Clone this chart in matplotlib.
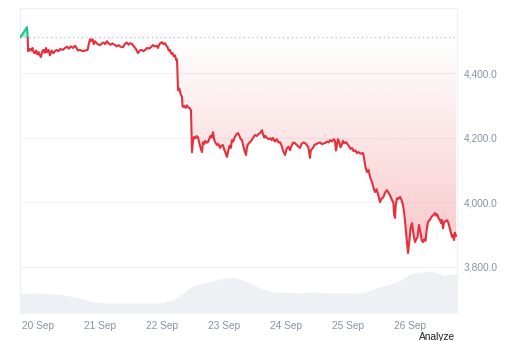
import matplotlib
matplotlib.use("Agg")
import matplotlib.pyplot as plt
import numpy as np
from matplotlib.patches import Polygon, Rectangle
from matplotlib.ticker import FuncFormatter

# time axis: days since 20 Sep 00:00
price_days = [
    -0.29, -0.25, -0.22, -0.19, -0.177, -0.165, -0.16, -0.13, -0.11, -0.09, -0.07, -0.05, -0.03, -0.01,
    0.01, 0.03, 0.048, 0.07, 0.09, 0.11, 0.13, 0.145, 0.17, 0.194, 0.22, 0.25, 0.274, 0.30, 0.33, 0.36,
    0.40, 0.435, 0.47, 0.50, 0.53, 0.565, 0.60, 0.645, 0.68, 0.72, 0.758, 0.80, 0.82, 0.839, 0.86, 0.88,
    0.90, 0.919, 0.95, 0.98, 1.0, 1.03, 1.06, 1.08, 1.113, 1.14, 1.17, 1.2, 1.242, 1.27, 1.3, 1.33,
    1.371, 1.40, 1.43, 1.46, 1.484, 1.52, 1.55, 1.58, 1.613, 1.64, 1.67, 1.70, 1.73, 1.758, 1.79, 1.82,
    1.855, 1.88, 1.91, 1.935, 1.96, 1.98, 2.0, 2.02, 2.048, 2.07, 2.09, 2.11, 2.129, 2.15, 2.17, 2.19,
    2.21, 2.23, 2.242, 2.25, 2.258, 2.28, 2.30, 2.323, 2.33, 2.339, 2.36, 2.38, 2.40, 2.419, 2.44, 2.468,
    2.475, 2.484, 2.50, 2.516, 2.54, 2.56, 2.581, 2.60, 2.62, 2.645, 2.661, 2.68, 2.70, 2.72, 2.742, 2.76,
    2.78, 2.80, 2.823, 2.84, 2.86, 2.887, 2.91, 2.935, 2.96, 2.984, 3.0, 3.02, 3.048, 3.07, 3.09, 3.11,
    3.129, 3.15, 3.17, 3.2, 3.226, 3.25, 3.27, 3.29, 3.31, 3.33, 3.355, 3.37, 3.39, 3.419, 3.44, 3.47,
    3.5, 3.53, 3.56, 3.59, 3.613, 3.63, 3.65, 3.67, 3.694, 3.72, 3.75, 3.77, 3.79, 3.82, 3.85, 3.88,
    3.903, 3.93, 3.95, 3.984, 4.01, 4.04, 4.065, 4.09, 4.12, 4.145, 4.17, 4.2, 4.226, 4.25, 4.28, 4.306,
    4.33, 4.36, 4.387, 4.40, 4.435, 4.46, 4.49, 4.516, 4.55, 4.58, 4.629, 4.66, 4.69, 4.71, 4.74, 4.77,
    4.79, 4.806, 4.82, 4.839, 4.86, 4.88, 4.90, 4.919, 4.94, 4.968, 4.99, 5.02, 5.04, 5.065, 5.09, 5.12,
    5.145, 5.17, 5.2, 5.242, 5.26, 5.28, 5.306, 5.33, 5.36, 5.387, 5.41, 5.435, 5.46, 5.49, 5.516, 5.54,
    5.57, 5.6, 5.629, 5.65, 5.68, 5.71, 5.73, 5.745, 5.758, 5.77, 5.79, 5.815, 5.839, 5.86, 5.887, 5.91,
    5.94, 5.968, 5.99, 6.01, 6.032, 6.05, 6.065, 6.081, 6.10, 6.12, 6.145, 6.17, 6.19, 6.21, 6.23, 6.25,
    6.27, 6.29, 6.32, 6.35, 6.38, 6.403, 6.42, 6.44, 6.46, 6.484, 6.50, 6.515, 6.532, 6.55, 6.57, 6.597,
    6.62, 6.64, 6.66, 6.677, 6.69, 6.71, 6.725, 6.742,
]
price = [
    4512, 4520, 4530, 4538, 4543, 4510, 4468, 4475, 4470, 4478, 4465, 4462, 4470, 4458,
    4465, 4455, 4450, 4468, 4472, 4463, 4478, 4465, 4472, 4455, 4470, 4462, 4468, 4472, 4468, 4475,
    4472, 4478, 4482, 4476, 4483, 4478, 4485, 4470, 4472, 4468, 4470, 4472, 4490, 4505, 4500, 4505,
    4490, 4499, 4492, 4488, 4487, 4492, 4495, 4490, 4499, 4492, 4488, 4492, 4487, 4483, 4487, 4482,
    4480, 4490, 4495, 4488, 4493, 4490, 4482, 4475, 4462, 4470, 4472, 4468, 4472, 4478, 4476, 4480,
    4487, 4483, 4485, 4478, 4490, 4494, 4496, 4490, 4493, 4485, 4480, 4470, 4472, 4460, 4462, 4452,
    4455, 4440, 4442, 4400, 4347, 4352, 4335, 4326, 4300, 4295, 4298, 4292, 4300, 4295, 4292, 4285,
    4230, 4155, 4190, 4202, 4198, 4205, 4200, 4185, 4170, 4155, 4186, 4180, 4190, 4184, 4186, 4195,
    4205, 4200, 4217, 4195, 4185, 4177, 4180, 4168, 4175, 4177, 4165, 4155, 4140, 4160, 4175, 4168,
    4192, 4188, 4200, 4210, 4214, 4205, 4195, 4192, 4175, 4160, 4146, 4170, 4180, 4186, 4190, 4200,
    4208, 4205, 4212, 4215, 4223, 4210, 4200, 4205, 4199, 4195, 4198, 4192, 4199, 4188, 4195, 4185,
    4186, 4175, 4160, 4146, 4165, 4172, 4161, 4175, 4185, 4183, 4178, 4172, 4168, 4180, 4185, 4183,
    4178, 4170, 4137, 4160, 4168, 4178, 4180, 4183, 4185, 4180, 4183, 4188, 4185, 4192, 4188, 4195,
    4190, 4160, 4175, 4195, 4185, 4170, 4178, 4190, 4182, 4186, 4180, 4172, 4165, 4168, 4158, 4160,
    4152, 4155, 4150, 4152, 4135, 4110, 4093, 4100, 4075, 4062, 4045, 4031, 4040, 4020, 4000, 4010,
    4015, 4030, 4037, 4030, 4020, 4006, 4000, 3960, 3951, 3990, 4012, 4010, 4016, 4008, 3991, 3960,
    3900, 3842, 3880, 3920, 3935, 3910, 3890, 3876, 3885, 3890, 3929, 3905, 3880, 3876, 3885, 3880,
    3915, 3938, 3945, 3955, 3960, 3966, 3958, 3962, 3950, 3944, 3935, 3945, 3919, 3938, 3940, 3944,
    3935, 3920, 3905, 3892, 3898, 3882, 3905, 3895,
]
baseline = 4512

volume_days = [
    -0.29, -0.08, 0.306, 0.677, 0.887, 1.113, 1.532, 1.968, 2.177, 2.5, 2.726, 2.935, 3.145, 3.371,
    3.581, 3.79, 4.226, 4.435, 4.758, 5.242, 5.516, 5.79, 6.0, 6.161, 6.371, 6.532, 6.758,
]
volume = [
    1.9, 2.0, 1.9, 1.5, 1.1, 1.0, 1.0, 1.0, 1.3, 2.7, 3.1, 3.4, 3.6, 3.1,
    2.5, 2.1, 2.0, 2.1, 2.0, 2.0, 2.6, 3.1, 3.9, 4.1, 4.2, 3.8, 3.9,
]

tick_days = [0, 1, 2, 3, 4, 5, 6]
tick_labels = ["20 Sep", "21 Sep", "22 Sep", "23 Sep", "24 Sep", "25 Sep", "26 Sep"]
price_ticks = [3800, 4000, 4200, 4400]

RED = "#e5303e"
GREEN = "#16c784"
GRAY = "#8a91a0"
x_min, x_max = -0.29, 6.758
y_min, y_max = 3656, 4602

plt.rcParams["font.family"] = ["Liberation Sans", "DejaVu Sans"]

fig = plt.figure(figsize=(5.12, 3.41), dpi=100)
ax = fig.add_axes([20 / 512, 1 - 313 / 341, 437 / 512, 305 / 341])

# volume on a twin axis, drawn behind the price
vax = ax.twinx()
vax.fill_between(volume_days, volume, 0, color="#eef0f4", lw=0)
vax.set_ylim(0, 30.5)
vax.set_yticks([])
for s in vax.spines.values():
    s.set_visible(False)
ax.set_zorder(vax.get_zorder() + 1)
ax.patch.set_visible(False)

t = np.array(price_days)
p = np.array(price)

# gradient fill between baseline and the price where it is below
verts = [(t[0], baseline)] + list(zip(t, np.minimum(p, baseline))) + [(t[-1], baseline)]
clip = Polygon(verts, closed=True, facecolor="none", edgecolor="none", transform=ax.transData)
ax.add_patch(clip)
grad = np.zeros((256, 1, 4))
grad[..., 0], grad[..., 1], grad[..., 2] = 234 / 255, 57 / 255, 67 / 255
grad[:, 0, 3] = np.linspace(0.28, 0.0, 256)
img = ax.imshow(grad, extent=[x_min, x_max, p.min(), baseline], origin="lower",
                aspect="auto", zorder=1, interpolation="bilinear")
img.set_clip_path(clip)

# small green area where the price sits above the opening price
ax.fill_between(t, p, baseline, where=p >= baseline, interpolate=True,
                color=GREEN, alpha=0.35, lw=0, zorder=1)

# price line, red below the opening price and green above
red_line, = ax.plot(t, p, color=RED, lw=1.5, zorder=3, solid_joinstyle="round")
green_line, = ax.plot(t, p, color=GREEN, lw=1.5, zorder=3, solid_joinstyle="round")
below = Rectangle((x_min, y_min), x_max - x_min, baseline - y_min, transform=ax.transData)
above = Rectangle((x_min, baseline), x_max - x_min, y_max - baseline, transform=ax.transData)
red_line.set_clip_path(below)
green_line.set_clip_path(above)

ax.axhline(baseline, color="#b8bcc6", lw=0.9, ls=(0, (1, 2.5)), zorder=2)

ax.set_xlim(x_min, x_max)
ax.set_ylim(y_min, y_max)
ax.set_xticks(tick_days)
ax.set_xticklabels(tick_labels)
ax.set_yticks(price_ticks)
ax.yaxis.set_major_formatter(FuncFormatter(lambda v, _: f"{v:,.1f}"))
ax.yaxis.tick_right()
ax.tick_params(axis="both", length=0, labelsize=7.3, labelcolor=GRAY)
ax.tick_params(axis="x", pad=6)
ax.tick_params(axis="y", pad=5)
ax.grid(axis="y", color="#f1f2f4", lw=0.8)
ax.set_axisbelow(True)

for name, s in ax.spines.items():
    if name == "bottom":
        s.set_visible(False)
    else:
        s.set_color("#eeeff2")
        s.set_linewidth(0.8)

fig.text(437 / 512, 1 - 337 / 341, "Analyze", fontsize=7.3, color="#222222", ha="center", va="center")

fig.savefig("out.png", dpi=100)
